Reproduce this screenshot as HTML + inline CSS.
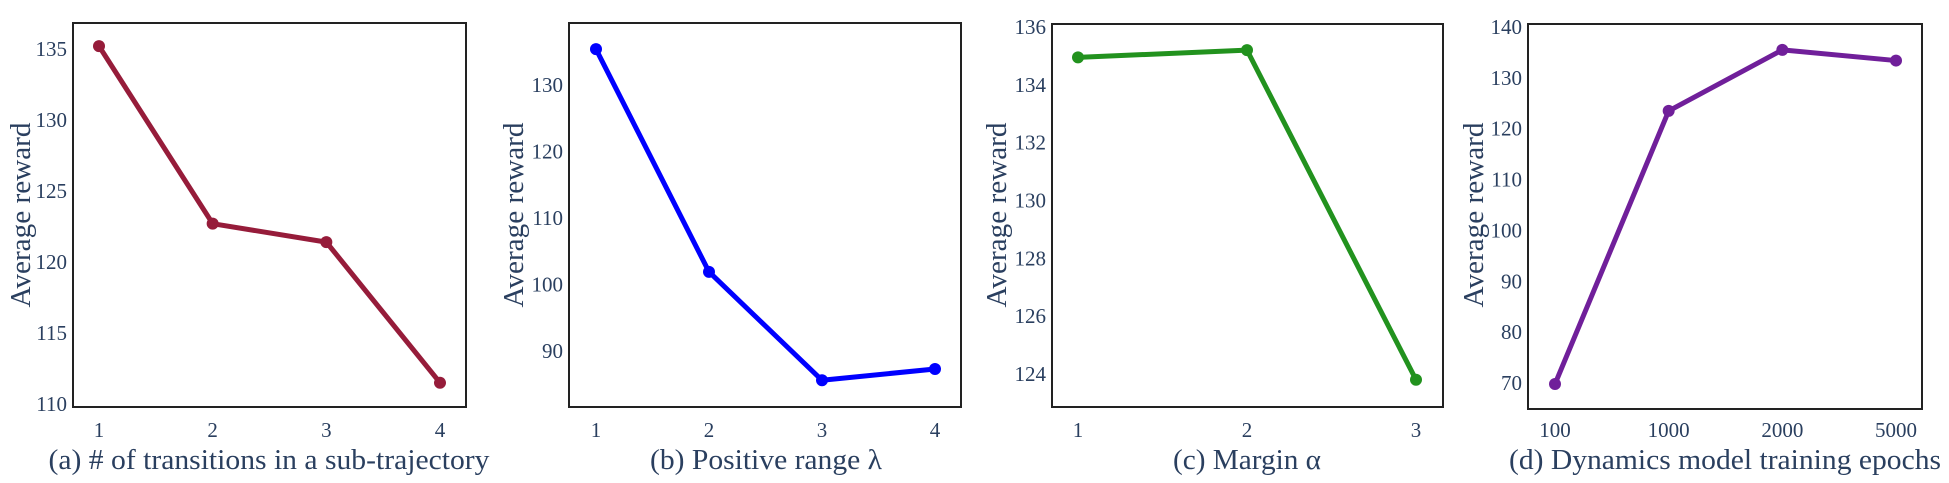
<!DOCTYPE html>
<html><head><meta charset="utf-8"><style>
html,body{margin:0;padding:0;background:#fff;}
svg{display:block;}
text{font-family:"Liberation Serif","DejaVu Serif",serif;fill:#2a3f5f;}
</style></head><body>
<svg id="chart" width="1949" height="483" xmlns="http://www.w3.org/2000/svg"></svg>
<script>
const catsA = ["1","2","3","4"];
const valsA = [135.2, 122.7, 121.4, 111.5];
const ticksA = [110,115,120,125,130,135];
const catsB = ["1","2","3","4"];
const valsB = [135.4, 101.9, 85.6, 87.3];
const ticksB = [90,100,110,120,130];
const catsC = ["1","2","3"];
const valsC = [134.95, 135.2, 123.8];
const ticksC = [124,126,128,130,132,134,136];
const catsD = ["100","1000","2000","5000"];
const valsD = [69.8, 123.5, 135.5, 133.4];
const ticksD = [70,80,90,100,110,120,130,140];

const NS="http://www.w3.org/2000/svg";
const svg=document.getElementById('chart');
function mk(tag,attrs,parent){const e=document.createElementNS(NS,tag);for(const k in attrs)e.setAttribute(k,attrs[k]);(parent||svg).appendChild(e);return e;}

const panels=[
 {id:'a',cats:catsA,vals:valsA,ticks:ticksA,color:'#961c3a',box:[73,23,466,407],y0:[135,49],y1:[110,404],x0:99,x1:440,title:'(a) # of transitions in a sub-trajectory',tx:269,tw:441,ytx:20},
 {id:'b',cats:catsB,vals:valsB,ticks:ticksB,color:'#0000ff',box:[569,23,961,407],y0:[130,85],y1:[90,351],x0:596,x1:935,title:'(b) Positive range λ',tx:766,tw:232,ytx:513},
 {id:'c',cats:catsC,vals:valsC,ticks:ticksC,color:'#22921e',box:[1052,24,1443,407],y0:[136,27],y1:[124,374],x0:1078,x1:1416,title:'(c) Margin α',tx:1247,tw:148,ytx:996},
 {id:'d',cats:catsD,vals:valsD,ticks:ticksD,color:'#701f9a',box:[1528,24,1922,409],y0:[140,27],y1:[70,383],x0:1555,x1:1896,title:'(d) Dynamics model training epochs',tx:1725,tw:432,ytx:1473}
];

panels.forEach(p=>{
  const g=mk('g',{});
  
  
  const yS=v=>p.y0[1]+(v-p.y0[0])*(p.y1[1]-p.y0[1])/(p.y1[0]-p.y0[0]);
  const xS=i=>p.x0+i*(p.x1-p.x0)/(p.cats.length-1);
  const [l,t,r,b]=p.box;
  const box=mk('rect',{x:l,y:t,width:r-l,height:b-t,fill:'none',stroke:'#222',"stroke-width":2},g);
  
  
  p.ticks.forEach(v=>{
    const tx=mk('text',{x:l-6,y:yS(v)+7,"text-anchor":"end","font-size":21},g);
    tx.textContent=v;
    
    
  });
  p.cats.forEach((c,i)=>{
    const tx=mk('text',{x:xS(i),y:437,"text-anchor":"middle","font-size":21},g);
    tx.textContent=c;
    
    
  });
  const pts=p.vals.map((v,i)=>xS(i)+','+yS(v)).join(' ');
  const line=mk('polyline',{points:pts,fill:'none',stroke:p.color,"stroke-width":5,"stroke-linejoin":"round"},g);
  
  
  p.vals.forEach((v,i)=>{
    const c=mk('circle',{cx:xS(i),cy:yS(v),r:6,fill:p.color},g);
    
    
  });
  const yt=mk('text',{x:0,y:0,transform:`translate(${p.ytx+10},215) rotate(-90)`,"text-anchor":"middle","font-size":29,textLength:185,lengthAdjust:"spacingAndGlyphs"},g);
  yt.textContent='Average reward';
  
  
  const tt=mk('text',{x:p.tx,y:469,"text-anchor":"middle","font-size":29,textLength:p.tw,lengthAdjust:"spacingAndGlyphs"},g);
  tt.textContent=p.title;
  
  
});
</script>
</body></html>
